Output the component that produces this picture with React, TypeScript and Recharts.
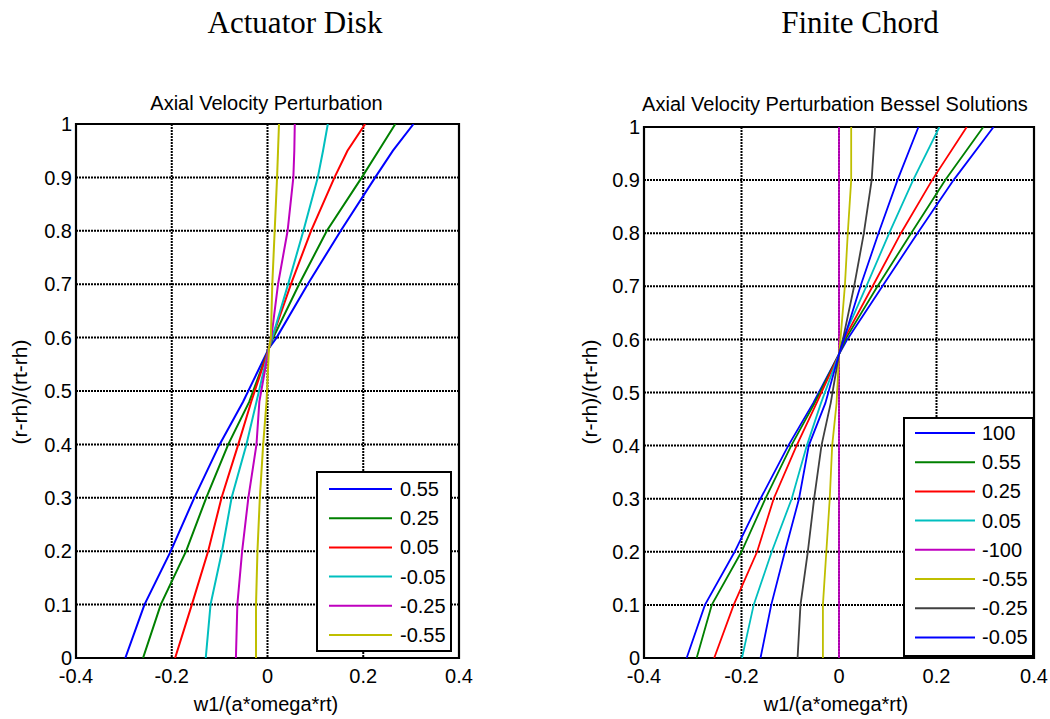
import React from 'react';
import { LineChart, Line, XAxis, YAxis, CartesianGrid, ReferenceArea, Legend } from 'recharts';

const SANS = '"Liberation Sans", Arial, Helvetica, sans-serif';
const SERIF = '"Liberation Serif", "Times New Roman", Times, serif';

// shared ticks
const xTicks = [-0.4, -0.2, 0, 0.2, 0.4];
const yTicks = [0, 0.1, 0.2, 0.3, 0.4, 0.5, 0.6, 0.7, 0.8, 0.9, 1];

// ---- Actuator Disk (left) ----
const leftY = [0, 0.1, 0.2, 0.3, 0.4, 0.48, 0.58, 0.6, 0.7, 0.8, 0.9, 0.95, 1];
const adP055 = [-0.297, -0.257, -0.202, -0.153, -0.1, -0.051, 0.003, 0.019, 0.084, 0.153, 0.225, 0.262, 0.305];
const adP025 = [-0.26, -0.223, -0.17, -0.128, -0.082, -0.038, 0.003, 0.012, 0.066, 0.124, 0.197, 0.232, 0.267];
const adP005 = [-0.193, -0.158, -0.124, -0.096, -0.061, -0.034, 0.003, 0.01, 0.049, 0.091, 0.14, 0.167, 0.204];
const adM005 = [-0.129, -0.119, -0.095, -0.075, -0.044, -0.023, 0.003, 0.01, 0.043, 0.075, 0.105, 0.116, 0.126];
const adM025 = [-0.066, -0.063, -0.053, -0.04, -0.023, -0.017, 0.003, 0.008, 0.022, 0.042, 0.054, 0.056, 0.057];
const adM055 = [-0.024, -0.024, -0.021, -0.016, -0.009, -0.002, 0.003, 0.007, 0.01, 0.015, 0.02, 0.022, 0.024];
const leftNames = ['0.55', '0.25', '0.05', '-0.05', '-0.25', '-0.55'];
const leftColors = ['#0000FF', '#008000', '#FF0000', '#00BFBF', '#BF00BF', '#BFBF00'];
const leftValues = [adP055, adP025, adP005, adM005, adM025, adM055];

// ---- Finite Chord (right) ----
const rightY = [0, 0.1, 0.2, 0.3, 0.4, 0.48, 0.572, 0.6, 0.7, 0.8, 0.9, 1];
const fcP100 = [-0.3125, -0.275, -0.214, -0.161, -0.104, -0.053, 0, 0.017, 0.089, 0.161, 0.235, 0.317];
const fcP055 = [-0.292, -0.261, -0.2, -0.151, -0.098, -0.05, 0, 0.013, 0.079, 0.148, 0.218, 0.296];
const fcP025 = [-0.256, -0.216, -0.168, -0.134, -0.087, -0.046, 0, 0.01, 0.069, 0.127, 0.191, 0.262];
const fcP005 = [-0.199, -0.175, -0.138, -0.097, -0.066, -0.037, 0, 0.008, 0.056, 0.103, 0.152, 0.206];
const fcM100 = [0, 0, 0, 0, 0, 0, 0, 0, 0, 0, 0, 0];
const fcM055 = [-0.033, -0.033, -0.026, -0.019, -0.014, -0.005, 0, 0.003, 0.012, 0.018, 0.025, 0.025];
const fcM025 = [-0.085, -0.079, -0.064, -0.051, -0.036, -0.017, 0, 0.008, 0.031, 0.051, 0.067, 0.074];
const fcM005 = [-0.161, -0.139, -0.111, -0.082, -0.062, -0.028, 0, 0.01, 0.044, 0.081, 0.12, 0.163];
const rightNames = ['100', '0.55', '0.25', '0.05', '-100', '-0.55', '-0.25', '-0.05'];
const rightColors = ['#0000FF', '#008000', '#FF0000', '#00BFBF', '#BF00BF', '#BFBF00', '#404040', '#0000FF'];
const rightValues = [fcP100, fcP055, fcP025, fcP005, fcM100, fcM055, fcM025, fcM005];

type Series = { name: string; color: string; points: { x: number; y: number }[] };

const build = (ys: number[], vals: number[][], names: string[], colors: string[]): Series[] =>
  vals.map((v, i) => ({
    name: names[i],
    color: colors[i],
    points: ys.map((y, j) => ({ x: v[j], y })),
  }));

const leftSeries = build(leftY, leftValues, leftNames, leftColors);
const rightSeries = build(rightY, rightValues, rightNames, rightColors);

const tickStyle = { fill: '#000', fontSize: 20, fontFamily: SANS };

function LegendBox({ series, w, h, lineX1, lineX2, textX, firstY, step }: any) {
  return (
    <svg width={w} height={h} style={{ display: 'block' }}>
      <rect x={1} y={1} width={w - 2} height={h - 2} fill="#fff" stroke="#000" strokeWidth={2} />
      {series.map((s: Series, i: number) => {
        const cy = firstY + i * step;
        return (
          <g key={i}>
            <line x1={lineX1} x2={lineX2} y1={cy} y2={cy} stroke={s.color} strokeWidth={2} />
            <text x={textX} y={cy + 7} fontSize={20} fontFamily={SANS} fill="#000">
              {s.name}
            </text>
          </g>
        );
      })}
    </svg>
  );
}

function Panel({ series, width, margin, yAxisWidth, strokeWidth, legend }: any) {
  return (
    <LineChart width={width} height={719} margin={margin}>
      <CartesianGrid stroke="#000" strokeWidth={2} strokeDasharray="2 1" />
      <XAxis
        type="number"
        dataKey="x"
        domain={[-0.4, 0.4]}
        ticks={xTicks}
        interval={0}
        height={61}
        axisLine={false}
        tickLine={false}
        tickSize={6}
        tickMargin={5}
        tick={tickStyle}
        allowDataOverflow
      />
      <YAxis
        type="number"
        dataKey="y"
        domain={[0, 1]}
        ticks={yTicks}
        interval={0}
        width={yAxisWidth}
        axisLine={false}
        tickLine={false}
        tickSize={2}
        tickMargin={2}
        tick={tickStyle}
        allowDataOverflow
      />
      {series.map((s: Series, i: number) => (
        <Line
          key={i}
          data={s.points}
          dataKey="y"
          name={s.name}
          stroke={s.color}
          strokeWidth={strokeWidth}
          dot={false}
          activeDot={false}
          type="linear"
          isAnimationActive={false}
        />
      ))}
      <ReferenceArea x1={-0.4} x2={0.4} y1={0} y2={1} fill="none" fillOpacity={0} stroke="#000" strokeWidth={2.2} ifOverflow="visible" />
      <Legend
        layout="vertical"
        align="center"
        verticalAlign="middle"
        wrapperStyle={{ position: 'absolute', left: legend.left, top: legend.top, width: legend.w, height: legend.h }}
        content={() => <LegendBox series={series} {...legend} />}
      />
    </LineChart>
  );
}

export default function App() {
  return (
    <div style={{ position: 'absolute', left: 0, top: 0, width: 1050, height: 719, background: '#fff', overflow: 'hidden' }}>
      <div style={{ position: 'absolute', left: 0, top: 0 }}>
        <Panel
          series={leftSeries}
          width={480}
          margin={{ top: 124, right: 21, bottom: 0, left: 0 }}
          yAxisWidth={76}
          strokeWidth={2}
          legend={{ left: 316, top: 471, w: 136, h: 181, lineX1: 13, lineX2: 76, textX: 84, firstY: 18, step: 29.2 }}
        />
      </div>
      <div style={{ position: 'absolute', left: 540, top: 0 }}>
        <Panel
          series={rightSeries}
          width={510}
          margin={{ top: 127, right: 16, bottom: 0, left: 0 }}
          yAxisWidth={104}
          strokeWidth={1.8}
          legend={{ left: 363, top: 417, w: 131, h: 240, lineX1: 12, lineX2: 72, textX: 79, firstY: 16, step: 29.2 }}
        />
      </div>
      <svg width={1050} height={719} style={{ position: 'absolute', left: 0, top: 0, pointerEvents: 'none' }}>
        <text x={295} y={33} textAnchor="middle" fontFamily={SERIF} fontSize={31} fill="#000">Actuator Disk</text>
        <text x={860} y={33} textAnchor="middle" fontFamily={SERIF} fontSize={31} fill="#000">Finite Chord</text>
        <text x={266.5} y={110} textAnchor="middle" fontFamily={SANS} fontSize={20} fill="#000">Axial Velocity Perturbation</text>
        <text x={835} y={111} textAnchor="middle" fontFamily={SANS} fontSize={20} fill="#000">Axial Velocity Perturbation Bessel Solutions</text>
        <text x={266} y={711} textAnchor="middle" fontFamily={SANS} fontSize={20} fill="#000">w1/(a*omega*rt)</text>
        <text x={836} y={711} textAnchor="middle" fontFamily={SANS} fontSize={20} fill="#000">w1/(a*omega*rt)</text>
        <text x={27} y={392} textAnchor="middle" fontFamily={SANS} fontSize={21} fill="#000" transform="rotate(-90 27 392)">(r-rh)/(rt-rh)</text>
        <text x={597} y={392} textAnchor="middle" fontFamily={SANS} fontSize={21} fill="#000" transform="rotate(-90 597 392)">(r-rh)/(rt-rh)</text>
      </svg>
    </div>
  );
}
